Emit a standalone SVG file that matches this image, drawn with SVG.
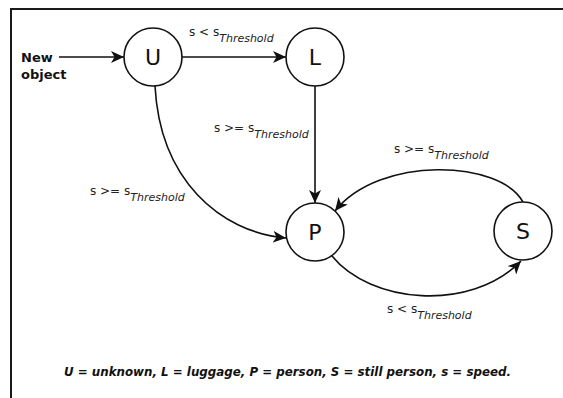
<svg xmlns="http://www.w3.org/2000/svg" width="563" height="398" viewBox="0 0 563 398">
<style>
.node circle{fill:#fff;stroke:#111;stroke-width:1.6}
.node text{font-family:"DejaVu Sans",sans-serif;font-size:22px;fill:#111;text-anchor:middle}
.edge{fill:none;stroke:#111;stroke-width:1.6;marker-end:url(#arr)}
.lbl{font-family:"DejaVu Sans",sans-serif;font-size:12px;fill:#222}
.sub{font-size:11px;font-style:italic}
.bold{font-family:"DejaVu Sans",sans-serif;font-weight:bold;font-size:13px;fill:#111}
</style>
<defs>
<marker id="arr" markerUnits="userSpaceOnUse" markerWidth="14" markerHeight="12" refX="13" refY="6" orient="auto">
<path d="M0,0 L13,6 L0,12 L3.5,6 Z" fill="#111"/>
</marker>
</defs>
<rect width="563" height="398" fill="#fff"/>
<path d="M11,398 V9 H563" fill="none" stroke="#1a1a1a" stroke-width="2"/>
<g id="connectors">
<path class="edge" d="M59,57 H124"/>
<path class="edge" d="M182,57 H286"/>
<path class="edge" d="M315,86 V203"/>
<path class="edge" d="M155,86 C160,180 220,232 286,238"/>
<path class="edge" d="M523,202 C500,160 380,155 335,211"/>
<path class="edge" d="M332,256 C370,303 470,313 521,261"/>
</g>
<g id="labels">
<text class="lbl" x="189" y="36">s &lt; s<tspan class="sub" dy="6">Threshold</tspan></text>
<text class="lbl" x="214" y="132">s &gt;= s<tspan class="sub" dy="6">Threshold</tspan></text>
<text class="lbl" x="394" y="153">s &gt;= s<tspan class="sub" dy="6">Threshold</tspan></text>
<text class="lbl" x="90" y="195">s &gt;= s<tspan class="sub" dy="6">Threshold</tspan></text>
<text class="lbl" x="387" y="313">s &lt; s<tspan class="sub" dy="6">Threshold</tspan></text>
</g>
<g id="start">
<text class="bold" x="21" y="62">New</text>
<text class="bold" x="21" y="79">object</text>
</g>
<g id="node-U" class="node"><circle cx="153" cy="57" r="29"/><text x="153" y="65">U</text></g>
<g id="node-L" class="node"><circle cx="315" cy="57" r="29"/><text x="315" y="65">L</text></g>
<g id="node-P" class="node"><circle cx="315" cy="232" r="29"/><text x="315" y="240">P</text></g>
<g id="node-S" class="node"><circle cx="523" cy="231" r="29"/><text x="523" y="239">S</text></g>
<g id="caption">
<text class="bold" x="64" y="376" font-style="italic" textLength="447" lengthAdjust="spacingAndGlyphs">U = unknown, L = luggage, P = person, S = still person, s = speed.</text>
</g>
</svg>
